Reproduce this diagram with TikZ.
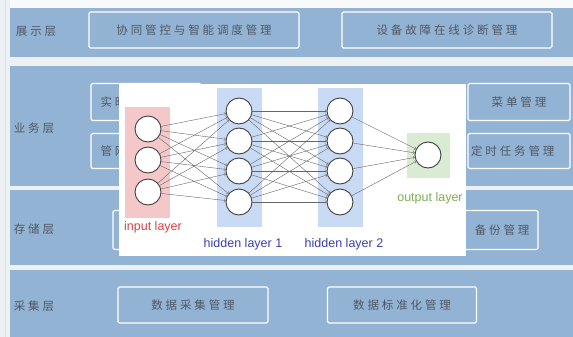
\documentclass[tikz,border=0pt]{standalone}
\usepackage{fontspec}
\setmainfont{Liberation Sans}
\newfontfamily\cjk[LetterSpace=25]{Noto Sans CJK SC}
\definecolor{bandblue}{HTML}{93B3D4}
\definecolor{bgpale}{HTML}{EEF1F4}
\definecolor{txtgray}{HTML}{4E5864}
\definecolor{inpink}{HTML}{F4C8C8}
\definecolor{hidblue}{HTML}{C9DAF4}
\definecolor{outgreen}{HTML}{D9EBD3}
\definecolor{inred}{HTML}{D9404A}
\definecolor{hidnavy}{HTML}{3B3FB8}
\definecolor{outgrn}{HTML}{7FAE57}
\tikzset{
  modbox/.style={draw=white, line width=1.4pt, fill=bandblue, rounded corners=1.5pt,
    inner sep=0pt, text=txtgray, font=\cjk\fontsize{11.5}{13}\selectfont},
  laytxt/.style={text=txtgray, font=\cjk\fontsize{11.5}{13}\selectfont},
  neuron/.style={draw=black!75, circle, fill=white, line width=0.9pt, minimum size=26pt, inner sep=0pt},
  nnlabel/.style={font=\fontsize{12.5}{14}\selectfont},
}
\begin{document}
\begin{tikzpicture}[x=1pt,y=-1pt]
\useasboundingbox (0,0) rectangle (573,337);
\fill[bgpale] (0,0) rectangle (573,337);
\fill[white!60!bgpale] (10,0) rectangle (573,8);
\draw[black!12, line width=1pt] (5,0) -- (5,337);

% layer bands
\fill[bandblue] (10,8) rectangle (573,57);
\fill[bandblue] (10,66) rectangle (573,186);
\fill[bandblue] (10,190) rectangle (573,265);
\fill[bandblue] (10,270) rectangle (573,337);

\node[laytxt] (l1) at (36,31) {展示层};
\node[laytxt] (l2) at (34,128) {业务层};
\node[laytxt] (l3) at (34,229) {存储层};
\node[laytxt] (l4) at (34,306) {采集层};

% module boxes
\node[modbox, minimum width=210pt, minimum height=36pt] (b1) at (194,30) {协同管控与智能调度管理};
\node[modbox, minimum width=210pt, minimum height=36pt] (b2) at (447,30) {设备故障在线诊断管理};
\node[modbox, minimum width=110pt, minimum height=37pt] (b3) at (146,102) {};
\node[modbox, minimum width=110pt, minimum height=35pt] (b4) at (146,151) {};
\node[laytxt, anchor=west] at (97,102) {实时};
\node[laytxt, anchor=west] at (97,151) {管网};
\node[modbox, minimum width=102pt, minimum height=37pt] (b5) at (519,102) {菜单管理};
\node[modbox, minimum width=102pt, minimum height=35pt] (b6) at (519,151) {};
\node[laytxt, anchor=east] at (558,151) {定时任务管理};
\node[modbox, minimum width=130pt, minimum height=39pt] (b7) at (178,230) {};
\node[modbox, minimum width=140pt, minimum height=39pt] (b8) at (468,230) {};
\node[laytxt, anchor=east] at (533,230) {备份管理};
\node[modbox, minimum width=150pt, minimum height=36pt] (b9) at (193,305) {数据采集管理};
\node[modbox, minimum width=149pt, minimum height=36pt] (b10) at (402,305) {数据标准化管理};

% network picture on top
\fill[white] (119,84) rectangle (466,256);
\fill[inpink] (125,107) rectangle (170,218);
\fill[hidblue] (217,88) rectangle (262,227);
\fill[hidblue] (318,88) rectangle (363,227);
\fill[outgreen] (407,133) rectangle (450,178);

\node[neuron] (i1) at (148,129) {};
\node[neuron] (i2) at (148,160) {};
\node[neuron] (i3) at (148,192) {};
\node[neuron] (h1) at (239,111) {};
\node[neuron] (h2) at (239,141) {};
\node[neuron] (h3) at (239,171) {};
\node[neuron] (h4) at (239,202) {};
\node[neuron] (k1) at (340,111) {};
\node[neuron] (k2) at (340,141) {};
\node[neuron] (k3) at (340,171) {};
\node[neuron] (k4) at (340,202) {};
\node[neuron] (o) at (428,155) {};

\node[nnlabel, text=inred] (lin) at (153,227) {input layer};
\node[nnlabel, text=hidnavy] (lh1) at (243,244) {hidden layer 1};
\node[nnlabel, text=hidnavy] (lh2) at (344,244) {hidden layer 2};
\node[nnlabel, text=outgrn] (lout) at (430,198) {output layer};

\path[draw,black!60,->] (i1) -- (h1);
\path[draw,black!60,->] (i1) -- (h2);
\path[draw,black!60,->] (i1) -- (h3);
\path[draw,black!60,->] (i1) -- (h4);
\path[draw,black!60,->] (i2) -- (h1);
\path[draw,black!60,->] (i2) -- (h2);
\path[draw,black!60,->] (i2) -- (h3);
\path[draw,black!60,->] (i2) -- (h4);
\path[draw,black!60,->] (i3) -- (h1);
\path[draw,black!60,->] (i3) -- (h2);
\path[draw,black!60,->] (i3) -- (h3);
\path[draw,black!60,->] (i3) -- (h4);

\path[draw,black!60,->] (h1) -- (k1);
\path[draw,black!60,->] (h1) -- (k2);
\path[draw,black!60,->] (h1) -- (k3);
\path[draw,black!60,->] (h1) -- (k4);
\path[draw,black!60,->] (h2) -- (k1);
\path[draw,black!60,->] (h2) -- (k2);
\path[draw,black!60,->] (h2) -- (k3);
\path[draw,black!60,->] (h2) -- (k4);
\path[draw,black!60,->] (h3) -- (k1);
\path[draw,black!60,->] (h3) -- (k2);
\path[draw,black!60,->] (h3) -- (k3);
\path[draw,black!60,->] (h3) -- (k4);
\path[draw,black!60,->] (h4) -- (k1);
\path[draw,black!60,->] (h4) -- (k2);
\path[draw,black!60,->] (h4) -- (k3);
\path[draw,black!60,->] (h4) -- (k4);

\path[draw,black!60,->] (k1) -- (o);
\path[draw,black!60,->] (k2) -- (o);
\path[draw,black!60,->] (k3) -- (o);
\path[draw,black!60,->] (k4) -- (o);
\end{tikzpicture}
\end{document}
